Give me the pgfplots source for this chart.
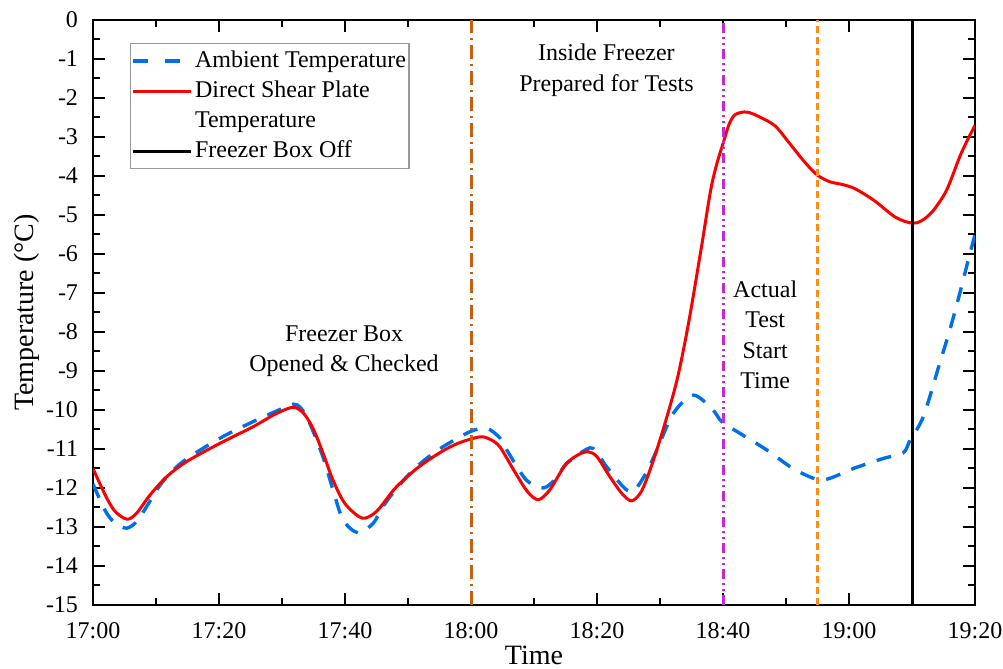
\documentclass[border=0pt]{standalone}
\usepackage{fontspec}
\setmainfont{Liberation Serif}
\usepackage{pgfplots}
\pgfplotsset{compat=1.18}
\definecolor{ambblue}{RGB}{0,112,232}
\definecolor{platered}{RGB}{250,0,0}
\definecolor{vbrown}{RGB}{196,96,16}
\definecolor{vmagenta}{RGB}{200,40,210}
\definecolor{vorange}{RGB}{255,140,20}
\begin{document}
\begin{tikzpicture}
\begin{axis}[
  scale only axis, width=441pt, height=292.5pt,
  xmin=0, xmax=140, ymin=-15, ymax=0,
  xtick={0,20,...,140},
  xticklabels={17:00,17:20,17:40,18:00,18:20,18:40,19:00,19:20},
  ytick={-15,-14,...,0},
  minor x tick num=1, minor y tick num=1,
  tick align=inside,
  major tick length=6pt, minor tick length=3.5pt,
  every tick/.style={black, line width=1pt},
  axis line style={line width=1pt},
  tick label style={font=\fontsize{12}{14}\selectfont, inner sep=0pt},
  /pgf/number format/assume math mode=true,
  yticklabel style={xshift=-7.3pt},
  xticklabel style={yshift=-8.5pt},
  xlabel={Time}, ylabel={Temperature (°C)},
  label style={font=\fontsize{14}{16}\selectfont, inner sep=0pt},
  xlabel style={at={(axis description cs:0.5,-0.0855)}, anchor=center},
  ylabel style={at={(axis description cs:-0.075,0.5)}, anchor=center},
  legend cell align=left,
  legend style={at={(axis description cs:0.042,0.961)}, anchor=north west,
    draw=gray!80, line width=0.6pt, font=\fontsize{12}{14}\selectfont,
    inner xsep=0.5pt, inner ysep=1.5pt, row sep=0.3pt,
    nodes={inner xsep=1pt, inner ysep=2pt, text height=8.5pt, text depth=2.2pt},
    /tikz/every even column/.append style={column sep=2.5pt}},
  legend image code/.code={\draw[#1] (0pt,0pt) -- (29pt,0pt);},
]
\addplot[ambblue, line width=1.7pt, dash pattern=on 7.5pt off 6pt, smooth,
  legend image post style={dash pattern=on 7.5pt off 8.5pt}] coordinates {
(0,-11.9) (2,-12.6) (3.5,-12.9) (5.35,-13.03) (7,-12.85) (8.5,-12.48) (11,-11.85)
(14.3,-11.32) (20.2,-10.72) (25.4,-10.3) (29.5,-10.0) (31.8,-9.85) (33,-9.95)
(34.4,-10.34) (36.5,-11.2) (38.1,-12.05) (39.7,-12.82) (42.1,-13.15) (44.5,-12.9)
(46,-12.48) (48.5,-11.95) (51.4,-11.45) (55,-11.0) (59.8,-10.56) (62.5,-10.47)
(64.6,-10.72) (65.7,-11.03) (68.8,-11.8) (71.5,-12.0) (73.5,-11.75) (75.2,-11.37)
(78.9,-10.97) (80.5,-11.2) (81.5,-11.45) (85.2,-12.1) (87.5,-11.7) (89.5,-11.03)
(92.1,-10.09) (95.3,-9.62) (98.4,-10.0) (99.8,-10.3) (102.7,-10.6) (107,-11.03)
(111.1,-11.5) (114.9,-11.78) (117,-11.75) (120.7,-11.5) (125.5,-11.24) (128.6,-11.1)
(129.7,-10.77) (131.8,-10.17) (134.4,-8.8) (136,-7.95) (137.6,-7.0) (138.7,-6.3) (140,-5.5)
};
\addlegendentry{Ambient Temperature}
\addplot[platered, line width=1.5pt, smooth] coordinates {
(0,-11.5) (2,-12.2) (3.5,-12.6) (5.4,-12.8) (6.9,-12.65) (9.05,-12.18) (11.7,-11.71)
(14.9,-11.32) (20.2,-10.85) (25.4,-10.43) (29,-10.1) (31.8,-9.93) (33.5,-10.1)
(35,-10.5) (36.5,-11.1) (38.1,-11.8) (40,-12.4) (42.7,-12.77) (45,-12.6) (48,-12.0)
(51.4,-11.5) (55,-11.1) (58,-10.85) (61.4,-10.69) (63,-10.75) (64.6,-10.95)
(67,-11.6) (69,-12.1) (70.7,-12.3) (72.5,-12.05) (75,-11.4) (77,-11.15) (78.6,-11.07)
(80,-11.2) (82,-11.7) (84,-12.15) (85.5,-12.33) (87,-12.1) (88.5,-11.5) (90.5,-10.5)
(92.7,-9.23) (94.5,-7.8) (96.5,-5.9) (98,-4.4) (99,-3.7) (100,-3.17) (101,-2.66)
(102,-2.42) (103.8,-2.36) (106,-2.5) (108.3,-2.72) (110.5,-3.15) (113,-3.65) (115,-3.98)
(117,-4.15) (119,-4.22) (121,-4.33) (124,-4.63) (127.4,-5.06) (130,-5.21) (131.5,-5.15)
(133.3,-4.9) (135.5,-4.36) (137.8,-3.42) (140,-2.7)
};
\addlegendentry{Direct Shear Plate}
\addlegendimage{empty legend}
\addlegendentry{Temperature}
\addplot[black, line width=1.5pt] coordinates {(130,-15) (130,0)};
\addlegendentry{Freezer Box Off}
\addplot[forget plot, vbrown, line width=1.5pt, dash pattern=on 7pt off 2.5pt on 1pt off 2.5pt] coordinates {(60,-15) (60,0)};
\addplot[forget plot, vmagenta, line width=1.5pt, dash pattern=on 5pt off 2pt on 1pt off 2pt on 1pt off 2pt] coordinates {(100,-15) (100,0)};
\addplot[forget plot, vorange, line width=1.4pt, dash pattern=on 3.5pt off 2pt] coordinates {(115,-15) (115,0)};
\node[align=center, font=\fontsize{12}{15}\selectfont, inner sep=0pt] at (axis cs:39.85,-8.49) {Freezer Box\\Opened \& Checked};
\node[align=center, font=\fontsize{12}{15.4}\selectfont, inner sep=0pt] at (axis cs:81.5,-1.28) {Inside Freezer\\Prepared for Tests};
\node[align=center, font=\fontsize{12}{15.2}\selectfont, inner sep=0pt] at (axis cs:106.7,-8.07) {Actual\\Test\\Start\\Time};
\end{axis}
\path (current axis.south west) +(-46.5pt,-32pt) coordinate (bbA);
\path (current axis.north east) +(14pt,10pt) coordinate (bbB);
\end{tikzpicture}
\end{document}
